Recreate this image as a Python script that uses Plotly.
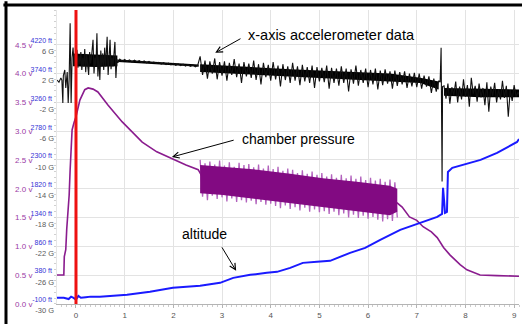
import plotly.graph_objects as go

# ---------------- data (time in seconds) ----------------
# chamber pressure, volts
p_t = [-0.39, -0.25, -0.24, -0.21, -0.19, -0.18, -0.16, -0.14, -0.12, -0.10, -0.08, -0.04, 0.0,
       0.08, 0.18, 0.25, 0.35, 0.45, 0.66, 0.95, 1.36, 1.66, 1.97, 2.26, 2.51, 2.6, 3.7, 5.07,
       6.45, 6.6, 6.7, 6.85, 7.0, 7.13, 7.3, 7.42, 7.55, 7.68, 7.89, 8.03, 8.3, 8.65, 9.1]
p_v = [0.50, 0.50, 0.82, 0.94, 1.30, 1.42, 1.60, 1.89, 2.33, 2.59, 3.02, 3.15, 3.25,
       3.54, 3.72, 3.75, 3.73, 3.68, 3.45, 3.16, 2.81, 2.64, 2.52, 2.41, 2.33, 2.2, 2.06, 1.92,
       1.78, 1.75, 1.68, 1.51, 1.45, 1.34, 1.25, 1.15, 0.98, 0.85, 0.68, 0.59, 0.50, 0.49, 0.48]

# pressure oscillation (volts): sampled peaks/troughs and dense core
po_t = [2.55, 2.60, 2.65, 2.70, 2.75, 2.80, 2.85, 2.90, 2.95, 3.00,
        3.05, 3.10, 3.15, 3.20, 3.25, 3.30, 3.35, 3.40, 3.45, 3.50,
        3.55, 3.60, 3.65, 3.70, 3.75, 3.80, 3.85, 3.90, 3.95, 4.00,
        4.05, 4.10, 4.15, 4.20, 4.25, 4.30, 4.35, 4.40, 4.45, 4.50,
        4.55, 4.60, 4.65, 4.70, 4.75, 4.80, 4.85, 4.90, 4.95, 5.00,
        5.05, 5.10, 5.15, 5.20, 5.25, 5.30, 5.35, 5.40, 5.45, 5.50,
        5.55, 5.60, 5.65, 5.70, 5.75, 5.80, 5.85, 5.90, 5.95, 6.00,
        6.05, 6.10, 6.15, 6.20, 6.25, 6.30, 6.35, 6.40, 6.45, 6.50,
        6.55, 6.60]
po_v = [2.50, 1.86, 2.44, 1.80, 2.47, 1.88, 2.42, 1.82, 2.49, 1.85,
        2.40, 1.78, 2.46, 1.83, 2.38, 1.77, 2.45, 1.80, 2.41, 1.76,
        2.43, 1.79, 2.37, 1.73, 2.42, 1.77, 2.35, 1.72, 2.40, 1.74,
        2.34, 1.70, 2.38, 1.66, 2.31, 1.71, 2.35, 1.65, 2.33, 1.68,
        2.27, 1.62, 2.32, 1.67, 2.26, 1.60, 2.30, 1.64, 2.24, 1.59,
        2.27, 1.61, 2.21, 1.56, 2.25, 1.60, 2.19, 1.54, 2.24, 1.57,
        2.18, 1.50, 2.23, 1.55, 2.17, 1.49, 2.21, 1.53, 2.15, 1.48,
        2.19, 1.51, 2.14, 1.46, 2.17, 1.43, 2.12, 1.47, 2.16, 1.44,
        2.11, 1.50]
pb_t = [2.55, 3.02, 3.72, 4.40, 5.07, 5.77, 6.45, 6.60]
pb_core_hi = [2.41, 2.38, 2.33, 2.26, 2.18, 2.12, 2.05, 2.00]
pb_core_lo = [1.92, 1.89, 1.82, 1.75, 1.68, 1.61, 1.54, 1.60]

# altitude, ft
alt_t = [-0.39, -0.25, -0.15, -0.10, -0.05, 0.0, 0.05, 0.1, 0.2, 0.3, 0.49, 1.05, 1.52, 1.99,
         2.55, 2.96, 3.23, 3.58, 3.92, 4.13, 4.40, 4.66, 4.95, 5.22, 5.63, 5.94, 6.25, 6.66,
         7.07, 7.42, 7.52, 7.54, 7.56, 7.58, 7.62, 7.64, 7.73, 8.0, 8.31, 8.65, 9.06, 9.10]
alt_ft = [0, 0, -20, 20, 0, -30, 30, 0, 10, 20, 17, 50, 100, 167,
          200, 250, 333, 383, 417, 433, 500, 583, 600, 617, 750, 833, 967, 1133,
          1250, 1350, 1400, 1833, 1633, 1417, 1433, 2100, 2167, 2233, 2300, 2417, 2600, 2650]

# x-axis accelerometer, G
acc_t = [-0.39, -0.35, -0.31, -0.29, -0.27, -0.26, -0.23, -0.21, -0.18, -0.16, -0.14, -0.12, -0.10, -0.08,
         -0.06, -0.04, -0.02, 0.00, 0.02, 0.04, 0.06, 0.08, 0.10, 0.12, 0.14, 0.16, 0.18, 0.20,
         0.22, 0.24, 0.26, 0.28, 0.30, 0.32, 0.35, 0.37, 0.39, 0.41, 0.43, 0.45, 0.47, 0.49,
         0.51, 0.53, 0.55, 0.57, 0.59, 0.61, 0.64, 0.66, 0.68, 0.70, 0.72, 0.74, 0.76, 0.78,
         0.80, 0.82, 0.84, 0.86, 0.90, 0.95, 1.0, 1.05, 1.1, 1.15, 1.2, 1.25, 1.3, 1.35, 1.4,
         1.45, 1.5, 1.55, 1.6, 1.65, 1.7, 1.75, 1.8, 1.85, 1.9, 1.95, 2.0, 2.05, 2.1, 2.15, 2.2,
         2.25, 2.3, 2.35, 2.4, 2.45, 2.5,
         2.55, 2.60, 2.65, 2.70, 2.75, 2.80, 2.85, 2.90, 2.95, 3.00,
         3.05, 3.10, 3.15, 3.20, 3.25, 3.30, 3.35, 3.40, 3.45, 3.50,
         3.55, 3.60, 3.65, 3.70, 3.75, 3.80, 3.85, 3.90, 3.95, 4.00,
         4.05, 4.10, 4.15, 4.20, 4.25, 4.30, 4.35, 4.40, 4.45, 4.50,
         4.55, 4.60, 4.65, 4.70, 4.75, 4.80, 4.85, 4.90, 4.95, 5.00,
         5.05, 5.10, 5.15, 5.20, 5.25, 5.30, 5.35, 5.40, 5.45, 5.50,
         5.55, 5.60, 5.65, 5.70, 5.75, 5.80, 5.85, 5.90, 5.95, 6.00,
         6.05, 6.10, 6.15, 6.20, 6.25, 6.30, 6.35, 6.40, 6.45, 6.50,
         6.55, 6.60, 6.65, 6.70, 6.75, 6.80, 6.85, 6.90, 6.95, 7.00,
         7.05, 7.10, 7.15, 7.20, 7.25, 7.30, 7.35, 7.40, 7.45,
         7.48, 7.50, 7.51, 7.52, 7.53,
         7.56, 7.60, 7.64, 7.68, 7.72, 7.76, 7.80, 7.84, 7.88, 7.92, 7.96, 8.00, 8.04, 8.08,
         8.12, 8.16, 8.20, 8.24, 8.28, 8.32, 8.36, 8.40, 8.44, 8.48, 8.52, 8.56, 8.60, 8.64,
         8.68, 8.72, 8.76, 8.80, 8.84, 8.88, 8.92, 8.96, 9.00, 9.04, 9.08, 9.10]
acc_g = [1.1, 0.8, 1.4, 1.1, -2.1, 1.7, 2.5, 0.0, 2.2, -2.1, 1.4, 9.0, -2.1, 4.2,
         5.6, 3.1, 4.6, 3.6, 5.3, 2.8, 4.4, 3.3, 5.0, 2.5, 4.2, 3.0, 5.4, 2.2,
         4.6, 3.3, 1.8, 5.0, 3.4, 4.4, 6.7, 2.0, 4.2, 3.0, 7.6, 1.6, 4.4, 1.1,
         5.2, 3.1, 4.8, 2.5, 5.6, 3.0, 7.1, 1.8, 4.6, 6.7, 2.6, 4.2, 3.0, 5.0,
         6.4, 1.4, 4.0, 3.5, 4.0, 3.7, 3.95, 3.7, 3.9, 3.6, 3.85, 3.65, 3.8, 3.55, 3.75,
         3.5, 3.7, 3.45, 3.6, 3.4, 3.55, 3.3, 3.5, 3.25, 3.45, 3.2, 3.4, 3.15, 3.35, 3.1, 3.3,
         3.05, 3.25, 3.0, 3.2, 2.95, 3.15,
         4.4, 1.8, 3.8, 1.3, 3.7, 2.0, 4.1, 1.2, 3.6, 1.7,
         3.7, 1.0, 3.5, 1.8, 4.0, 1.5, 3.4, 0.7, 3.6, 1.6,
         3.4, 1.4, 3.8, 1.1, 3.3, 0.5, 3.5, 1.5, 3.2, 1.0,
         3.6, 1.2, 3.1, 0.2, 3.3, 1.1, 3.0, 0.7, 3.5, 1.0,
         3.0, 0.4, 3.2, 0.9, 2.9, 0.7, 3.1, 0.0, 2.9, 0.9,
         2.8, 0.8, 3.1, -0.1, 2.8, 0.7, 2.7, 0.3, 3.0, 0.7,
         2.7, -0.5, 2.6, 0.6, 3.1, 0.3, 2.5, 0.7, 2.7, 0.1,
         2.5, 0.5, 2.7, -0.2, 2.4, 0.4, 2.6, 0.6, 2.3, -0.1,
         2.4, 0.3, 2.2, 0.5, 2.3, 0.0, 2.0, 0.2, 2.1, 0.1,
         2.0, -0.1, 1.7, 0.2, 1.6, -0.7, 1.3, -0.5, 1.0,
         0.8, 5.6, -3.0, -13.0, 0.2,
         0.3, -1.5, 0.6, -2.2, 0.1, -1.0, 0.9, -2.0, 0.2, -1.6, 1.2, -1.2, 0.4, -2.6,
         1.4, -0.8, 0.3, -1.9, 0.6, -1.3, 0.0, -2.4, 0.8, -3.3, 0.2, -1.1, 0.7, -2.0,
         -0.2, -1.6, 1.0, -1.4, 0.3, -4.0, -0.3, -1.8, 0.4, -1.2, -0.6, -0.9]

# dense cores of the accelerometer noise, G
ab_cores = [
    ([-0.06, 0.40, 0.85], [4.8, 4.7, 4.5], [3.0, 2.9, 3.0]),
    ([0.86, 1.7, 2.52], [3.95, 3.6, 3.25], [3.6, 3.3, 2.95]),
    ([2.55, 4.40, 6.45, 7.07, 7.45], [3.3, 2.6, 2.0, 1.4, 0.9], [2.2, 1.5, 0.9, 0.7, -0.2]),
    ([7.56, 8.3, 9.1], [0.0, -0.1, -0.2], [-1.1, -1.3, -1.3]),
]

# axis ticks
volt_ticks = [0.0, 0.5, 1.0, 1.5, 2.0, 2.5, 3.0, 3.5, 4.0, 4.5]
ft_ticks = [-100, 380, 860, 1340, 1820, 2300, 2780, 3260, 3740, 4220]
g_ticks = [-30, -26, -22, -18, -14, -10, -6, -2, 2, 6]
x_ticks = [0, 1, 2, 3, 4, 5, 6, 7, 8, 9]

# scale relations of the three stacked left scales (per gridline)
FT_PER_V, FT_AT_0V = 960, -100
G_PER_V, G_AT_0V = 8, -30
V_RANGE = [-0.003, 5.104]

FONT = "Liberation Sans, Arial, sans-serif"


def band(t, hi, lo):
    return list(t) + list(t)[::-1], list(hi) + list(lo)[::-1]


fig = go.Figure()

# pressure (volts axis)
fig.add_trace(go.Scatter(x=p_t, y=p_v, mode="lines", line=dict(color="#8a1c8e", width=1.6),
                         yaxis="y", hoverinfo="skip"))
fig.add_trace(go.Scatter(x=po_t, y=po_v, mode="lines", line=dict(color="#b262bd", width=1.3),
                         yaxis="y", hoverinfo="skip"))
bx, by = band(pb_t, pb_core_hi, pb_core_lo)
fig.add_trace(go.Scatter(x=bx, y=by, mode="lines", fill="toself", fillcolor="#820a82",
                         line=dict(width=0), yaxis="y", hoverinfo="skip"))

# altitude (ft axis)
fig.add_trace(go.Scatter(x=alt_t, y=alt_ft, mode="lines", line=dict(color="#1a1aff", width=2),
                         yaxis="y2", hoverinfo="skip"))

# accelerometer (G axis)
for t, hi, lo in ab_cores:
    bx, by = band(t, hi, lo)
    fig.add_trace(go.Scatter(x=bx, y=by, mode="lines", fill="toself", fillcolor="#000000",
                             line=dict(width=0), yaxis="y3", hoverinfo="skip"))
fig.add_trace(go.Scatter(x=acc_t, y=acc_g, mode="lines", line=dict(color="#111111", width=1.1),
                         yaxis="y3", hoverinfo="skip"))

ft_range = [v * FT_PER_V + FT_AT_0V for v in V_RANGE]
g_range = [v * G_PER_V + G_AT_0V for v in V_RANGE]

fig.update_layout(
    width=522, height=324,
    margin=dict(l=57, r=3, t=10, b=20),
    paper_bgcolor="white", plot_bgcolor="white",
    showlegend=False,
    font=dict(family=FONT),
    xaxis=dict(range=[-0.39, 9.10], tickvals=x_ticks, ticktext=[str(v) for v in x_ticks],
               showgrid=True, gridcolor="#e3e3e3", gridwidth=1, zeroline=False,
               showline=True, linecolor="#b4b4b4", linewidth=1,
               ticks="outside", ticklen=3, tickcolor="#b4b4b4",
               minor=dict(dtick=0.1, ticks="outside", ticklen=2, tickcolor="#cccccc", showgrid=False),
               tickfont=dict(size=8, color="#555555", family=FONT)),
    yaxis=dict(range=V_RANGE, tickvals=volt_ticks, ticktext=[f"{v:.1f} v" for v in volt_ticks],
               showgrid=True, gridcolor="#e3e3e3", gridwidth=1, zeroline=False,
               showline=True, linecolor="#e6e6e6", ticks="",
               minor=dict(dtick=0.1, ticks="outside", ticklen=2, tickcolor="#d0d0d0", showgrid=False),
               tickfont=dict(size=8, color="#9a3aa5", family=FONT), ticklabelstandoff=22),
    yaxis2=dict(overlaying="y", anchor="x", side="left", range=ft_range, tickvals=ft_ticks,
                ticktext=[f"{v} ft" for v in ft_ticks], showgrid=False, zeroline=False,
                showline=False, ticks="",
                tickfont=dict(size=7, color="#3434d6", family=FONT),
                ticklabelstandoff=4, ticklabelshift=-4),
    yaxis3=dict(overlaying="y", anchor="x", side="left", range=g_range, tickvals=g_ticks,
                ticktext=[f"{v} G" for v in g_ticks], showgrid=False, zeroline=False,
                showline=False, ticks="",
                tickfont=dict(size=7.5, color="#5a5a5a", family=FONT),
                ticklabelstandoff=2, ticklabelshift=7),
)

# launch marker and frame
fig.add_shape(type="line", xref="x", yref="paper", x0=0, x1=0, y0=0, y1=1,
              line=dict(color="#ee1111", width=3), layer="above")
fig.add_shape(type="line", xref="paper", yref="paper", x0=-0.1104, x1=-0.1104, y0=-0.08, y1=1.03,
              line=dict(color="black", width=3), layer="above")
fig.add_shape(type="line", xref="paper", yref="paper", x0=-0.116, x1=1.01, y0=1.017, y1=1.017,
              line=dict(color="black", width=3), layer="above")

# labels with arrows
labels = [
    ("x-axis accelerometer data", 3.49, 4.67, 2.86, 4.36, 3.41, 4.62, 14.5),
    ("chamber pressure", 3.37, 2.86, 1.97, 2.55, 3.27, 2.85, 14),
    ("altitude", 2.14, 1.215, 3.29, 0.573, 2.98, 1.007, 14),
]
for text, tx, ty, hx, hy, ax, ay, fs in labels:
    fig.add_annotation(x=tx, y=ty, xref="x", yref="y", text=text, showarrow=False,
                       xanchor="left", yanchor="middle",
                       font=dict(size=fs, color="black", family=FONT))
    fig.add_annotation(x=hx, y=hy, xref="x", yref="y", ax=ax, ay=ay, axref="x", ayref="y",
                       text="", showarrow=True, arrowhead=5, arrowsize=1.2, arrowwidth=1,
                       arrowcolor="black")

fig.write_html("out.html", config={"displayModeBar": False},
               post_script="document.body.style.margin='0px';document.body.style.overflow='hidden';")
